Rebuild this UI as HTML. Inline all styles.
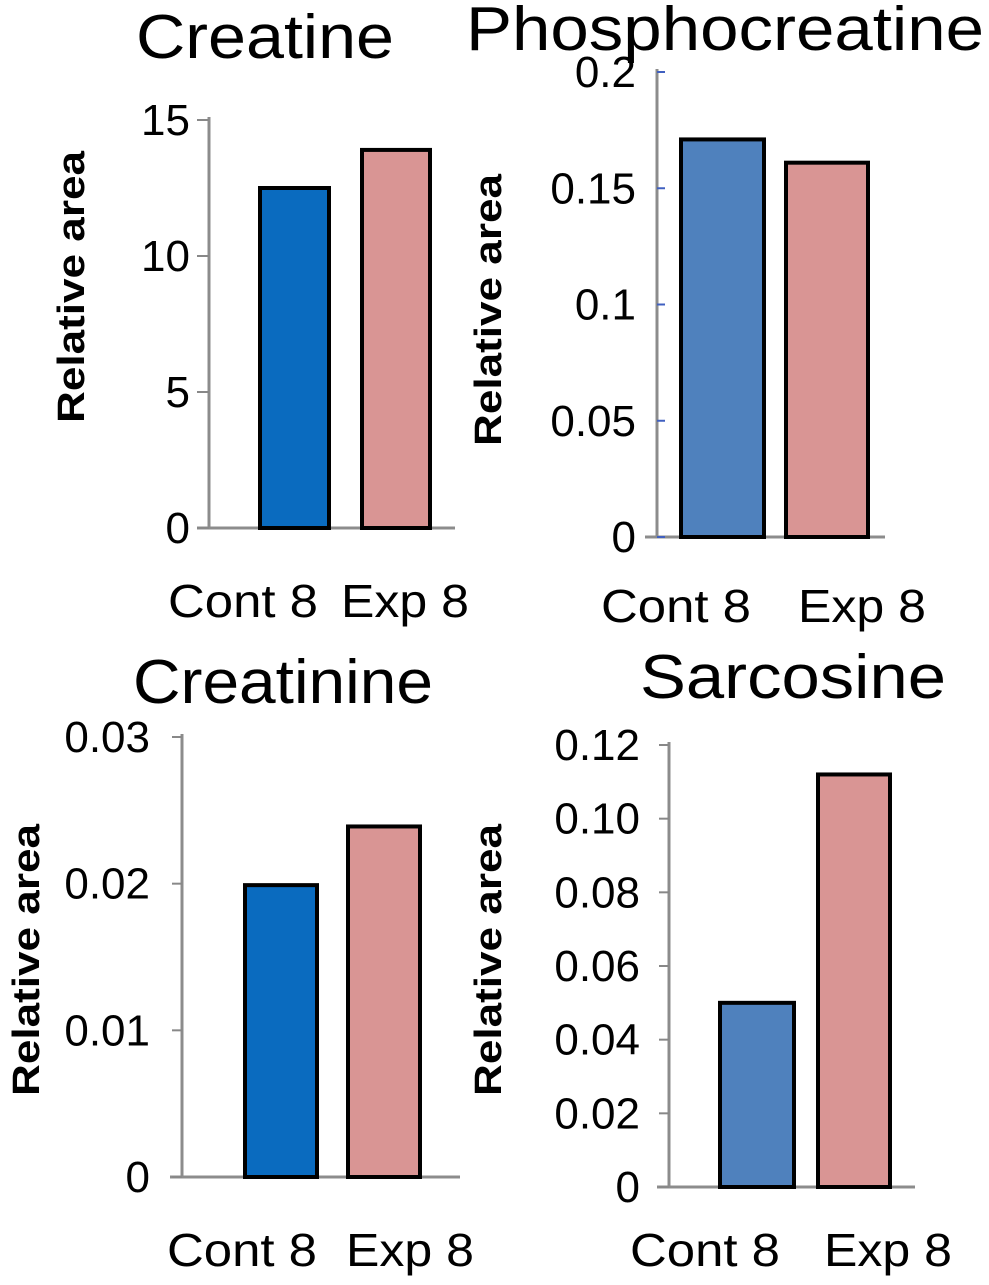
<!DOCTYPE html>
<html><head><meta charset="utf-8"><style>
body{margin:0;background:#fff;width:989px;height:1280px;overflow:hidden}
svg text{font-family:"Liberation Sans",sans-serif}
</style></head><body>
<svg id="s" width="989" height="1280"></svg>
<script>
const categories=["Cont 8","Exp 8"];
const titles=["Creatine","Phosphocreatine","Creatinine","Sarcosine"];
const creatineValues=[12.5,13.9];
const phosphoValues=[0.171,0.161];
const creatinineValues=[0.0199,0.0239];
const sarcosineValues=[0.050,0.112];
const creatineTicks=["0","5","10","15"];
const phosphoTicks=["0","0.05","0.1","0.15","0.2"];
const creatinineTicks=["0","0.01","0.02","0.03"];
const sarcosineTicks=["0","0.02","0.04","0.06","0.08","0.10","0.12"];
const NS="http://www.w3.org/2000/svg";
const svg=document.getElementById('s');
function mk(t,a,txt){const e=document.createElementNS(NS,t);for(const k in a)e.setAttribute(k,a[k]);if(txt!=null)e.textContent=txt;svg.appendChild(e);return e;}
const panels=[
 {vals:creatineValues,ticks:creatineTicks,max:15,ax:209,top:120,bot:528,baseEnd:455,bars:[[260,329],[362,430]],cBlue:"#0a6bbf",tx:265,ty:58,tw:258,tl:190,yl:[70,287],xl:[[243,405],617],tickSide:-12,tickCol:"#888",name:"creatine"},
 {vals:phosphoValues,ticks:phosphoTicks,max:0.2,ax:657,top:72,bot:537,baseEnd:885,bars:[[681,764],[786,868]],cBlue:"#4f81bd",tx:725,ty:50,tw:518,tl:636,yl:[487,310],xl:[[676,862],622],tickSide:8,tickCol:"#4060c0",name:"phosphocreatine"},
 {vals:creatinineValues,ticks:creatinineTicks,max:0.03,ax:182,top:737,bot:1177,baseEnd:460,bars:[[245,317],[348,420]],cBlue:"#0a6bbf",tx:283,ty:703,tw:300,tl:150,yl:[25,960],xl:[[242,410],1266],tickSide:-10,tickCol:"#888",name:"creatinine"},
 {vals:sarcosineValues,ticks:sarcosineTicks,max:0.12,ax:669,top:745,bot:1187,baseEnd:915,bars:[[720,794],[818,890]],cBlue:"#4f81bd",tx:793,ty:698,tw:306,tl:640,yl:[487,960],xl:[[705,888],1266],tickSide:-10,tickCol:"#888",name:"sarcosine"}
];
panels.forEach((p,pi)=>{
 const y=v=>p.bot-(v/p.max)*(p.bot-p.top);
 let e=mk('text',{x:p.tx,y:p.ty,'text-anchor':'middle','font-size':62,textLength:p.tw,lengthAdjust:'spacingAndGlyphs'},titles[pi]);
 
 
 e=mk('line',{x1:p.ax,y1:p.top-3,x2:p.ax,y2:p.bot,stroke:'#8c8c8c','stroke-width':3});
 
 
 e=mk('line',{x1:p.ax-12,y1:p.bot,x2:p.baseEnd,y2:p.bot,stroke:'#8c8c8c','stroke-width':3});
 
 
 p.ticks.forEach((t,i)=>{
  const v=i*p.max/(p.ticks.length-1),yy=y(v);
  const tk=mk('line',{x1:p.ax,y1:yy,x2:p.ax+p.tickSide,y2:yy,stroke:p.tickCol,'stroke-width':2});
  
  
  const l=mk('text',{x:p.tl,y:yy+15,'text-anchor':'end','font-size':44},t);
  
  
 });
 p.vals.forEach((v,i)=>{
  const [x0,x1]=p.bars[i];
  const r=mk('rect',{x:x0,y:y(v),width:x1-x0,height:p.bot-y(v),fill:i==0?p.cBlue:'#d99594',stroke:'#000','stroke-width':4});
  
  
  const xl=mk('text',{x:p.xl[0][i],y:p.xl[1],'text-anchor':'middle','font-size':46,textLength:i==0?150:128,lengthAdjust:'spacingAndGlyphs'},categories[i]);
  
  
 });
 const yl=mk('text',{x:0,y:0,'text-anchor':'middle','font-size':38,'font-weight':'bold',textLength:272,lengthAdjust:'spacingAndGlyphs',transform:`translate(${p.yl[0]+14},${p.yl[1]}) rotate(-90)`},'Relative area');
 
 
});
</script>
</body></html>
